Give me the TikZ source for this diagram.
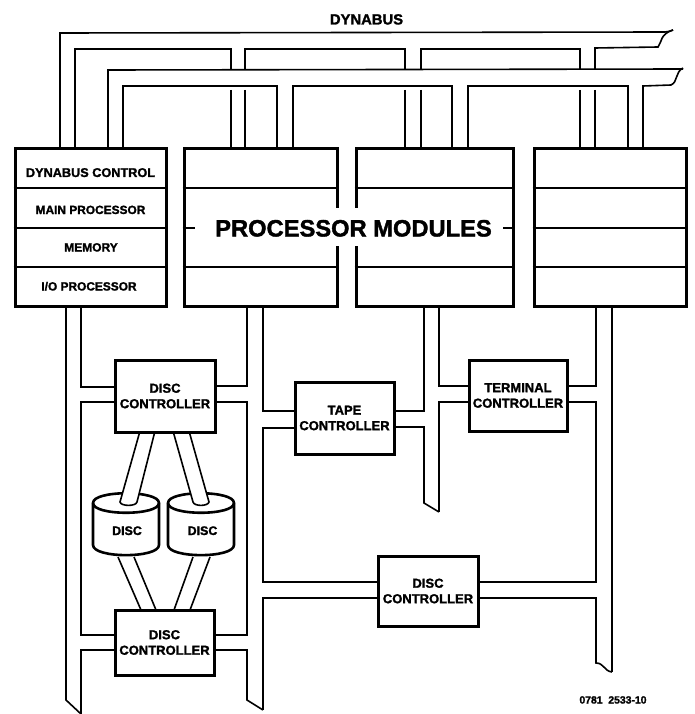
\documentclass[tikz,border=0pt]{standalone}
\usepackage{fontspec}
\setmainfont{Liberation Sans}[BoldFeatures={FakeBold=1.6}]
\tikzset{
  module/.style={draw=black,line width=3pt,minimum width=#1,minimum height=157pt,inner sep=0pt},
  ctrl/.style={draw=black,line width=3pt,fill=white,minimum width=#1,inner sep=0pt,align=center,
    font=\fontsize{13}{15.5}\selectfont\bfseries},
  bus/.style={line width=1.6pt,line join=miter},
  divider/.style={line width=1.5pt},
  disc/.style={line width=2.6pt,fill=white},
  cable/.style={line width=1.6pt,fill=white},
  cell/.style={anchor=base,inner sep=0pt,font=\fontsize{12.7}{15}\selectfont\bfseries},
  plain/.style={inner sep=0pt,anchor=base}
}
\begin{document}
\begin{tikzpicture}[x=1pt,y=-1pt]
\path[use as bounding box] (0,0) rectangle (694,714);
% processor modules
\node[module=151pt] (m1) at (90.5,227.5) {};
\node[module=153pt] (m2) at (260.5,227.5) {};
\node[module=157pt] (m3) at (434.5,227.5) {};
\node[module=152pt] (m4) at (610,227.5) {};
\foreach \y in {188,228,267}{
  \draw[divider] (m1.west |- 0,\y) -- (m1.east |- 0,\y);
  \draw[divider] (m2.west |- 0,\y) -- (m2.east |- 0,\y);
  \draw[divider] (m3.west |- 0,\y) -- (m3.east |- 0,\y);
  \draw[divider] (m4.west |- 0,\y) -- (m4.east |- 0,\y);
}
\fill[white] (195,208) rectangle (503,246);
\node[plain,font=\fontsize{23.7}{28}\selectfont\bfseries] (pm) at (353.5,236.5) {PROCESSOR MODULES};
\node[cell] (c1) at (90.5,177) {DYNABUS CONTROL};
\node[cell,font=\fontsize{11.9}{15}\selectfont\bfseries] (c2) at (90.5,214) {MAIN PROCESSOR};
\node[cell,font=\fontsize{12}{15}\selectfont\bfseries] (c3) at (91,251.5) {MEMORY};
\node[cell,font=\fontsize{11.9}{15}\selectfont\bfseries] (c4) at (89,290.5) {I/O PROCESSOR};
\node[plain,font=\fontsize{14.8}{16}\selectfont\bfseries] (dyn) at (366.5,24.5) {DYNABUS};
\node[plain,font=\fontsize{10.4}{12}\selectfont\bfseries] (code) at (613,703.5) {0781\ \ 2533-10};
% upper Dynabus
\draw[bus] (60,0 |- m1.north) -- (60,33) -- (665,32) .. controls (668,32) and (670,31) .. (673,30);
\draw[bus] (75,0 |- m1.north) -- (75,49) -- (231,49) -- (231,70);
\draw[bus] (245,70) -- (245,49) -- (405,49) -- (405,70);
\draw[bus] (421,70) -- (421,49) -- (580,49) -- (580,69);
\draw[bus] (595,69) -- (595,48) -- (658,47) .. controls (662,42) and (660,34) .. (673,30);
\draw[bus] (108,0 |- m1.north) -- (108,70) -- (683,69);
\draw[bus] (123,0 |- m1.north) -- (123,86) -- (277,86) -- (277,0 |- m2.north);
\draw[bus] (293,0 |- m2.north) -- (293,86) -- (452,86) -- (452,0 |- m3.north);
\draw[bus] (468,0 |- m3.north) -- (468,86) -- (628,86) -- (628,0 |- m4.north);
\draw[bus] (643,0 |- m4.north) -- (643,86) -- (671,85) .. controls (678,82) and (675,72) .. (683,68);
\foreach \x in {231,245}{\draw[bus] (\x,90) -- (\x,0 |- m2.north);}
\foreach \x in {405,421}{\draw[bus] (\x,90) -- (\x,0 |- m3.north);}
\foreach \x in {580,595}{\draw[bus] (\x,90) -- (\x,0 |- m4.north);}
% discs
\foreach \dx in {0,75}{
\begin{scope}[shift={(\dx,0)}]
  \draw[disc] (93,503) .. controls (93,490) and (159,490) .. (159,503) -- (159,545)
     .. controls (159,558.5) and (93,558.5) .. (93,545) -- cycle;
  \draw[disc,fill=none] (93,503) .. controls (93,516) and (159,516) .. (159,503);
\end{scope}}
\node[plain,font=\fontsize{12.4}{15}\selectfont\bfseries] (d1) at (127,535) {DISC};
\node[plain,font=\fontsize{12.4}{15}\selectfont\bfseries] (d2) at (202.5,535) {DISC};
% disc cables
\draw[cable] (140,431) -- (120,502) .. controls (121,506.5) and (136,506.5) .. (137,502) -- (155,431);
\draw[cable] (173,431) -- (193,502) .. controls (194,506.5) and (208,506.5) .. (209,502) -- (189,431);
\draw[bus] (118,557) -- (141,610);
\draw[bus] (134,557) -- (156,610);
\draw[bus] (193,557) -- (174,610);
\draw[bus] (210,557) -- (190,610);
% controllers
\node[ctrl=100pt,minimum height=72pt] (dc1) at (165,396) {DISC\\CONTROLLER};
\node[ctrl=99pt,minimum height=65pt] (dc2) at (164.5,642.5) {DISC\\CONTROLLER};
\node[ctrl=99pt,minimum height=72pt] (tc) at (344.5,418) {TAPE\\CONTROLLER};
\node[ctrl=98pt,minimum height=71pt] (tm) at (518,395.5) {TERMINAL\\CONTROLLER};
\node[ctrl=100pt,minimum height=70pt] (dc3) at (428,591) {DISC\\CONTROLLER};
% bus from module 1
\draw[bus] (66,0 |- m1.south) -- (66,700) -- (81,714);
\draw[bus] (81,0 |- m1.south) -- (81,387) -- (dc1.west |- 0,387);
\draw[bus] (dc1.west |- 0,402) -- (81,402) -- (81,635) -- (dc2.west |- 0,635);
\draw[bus] (dc2.west |- 0,650) -- (81,650) -- (81,714);
% bus from module 2
\draw[bus] (247,0 |- m2.south) -- (247,386) -- (dc1.east |- 0,386);
\draw[bus] (dc1.east |- 0,402) -- (247,402) -- (247,635) -- (dc2.east |- 0,635);
\draw[bus] (dc2.east |- 0,650) -- (247,650) -- (247,700) -- (263,710);
\draw[bus] (263,0 |- m2.south) -- (263,411) -- (tc.west |- 0,411);
\draw[bus] (tc.west |- 0,428) -- (263,428) -- (263,582) -- (dc3.west |- 0,582);
\draw[bus] (dc3.west |- 0,598) -- (263,598) -- (263,710);
% bus from module 3
\draw[bus] (424,0 |- m3.south) -- (424,411) -- (tc.east |- 0,411);
\draw[bus] (tc.east |- 0,427) -- (424,427) -- (424,503) -- (439,512);
\draw[bus] (439,0 |- m3.south) -- (439,386) -- (tm.west |- 0,386);
\draw[bus] (tm.west |- 0,402) -- (439,402) -- (439,512);
% bus from module 4
\draw[bus] (596,0 |- m4.south) -- (596,386) -- (tm.east |- 0,386);
\draw[bus] (tm.east |- 0,402) -- (596,402) -- (596,582) -- (dc3.east |- 0,582);
\draw[bus] (dc3.east |- 0,598) -- (596,598) -- (596,663)
   .. controls (604,663) and (604,671) .. (612,672);
\draw[bus] (612,0 |- m4.south) -- (612,672);
\end{tikzpicture}
\end{document}
